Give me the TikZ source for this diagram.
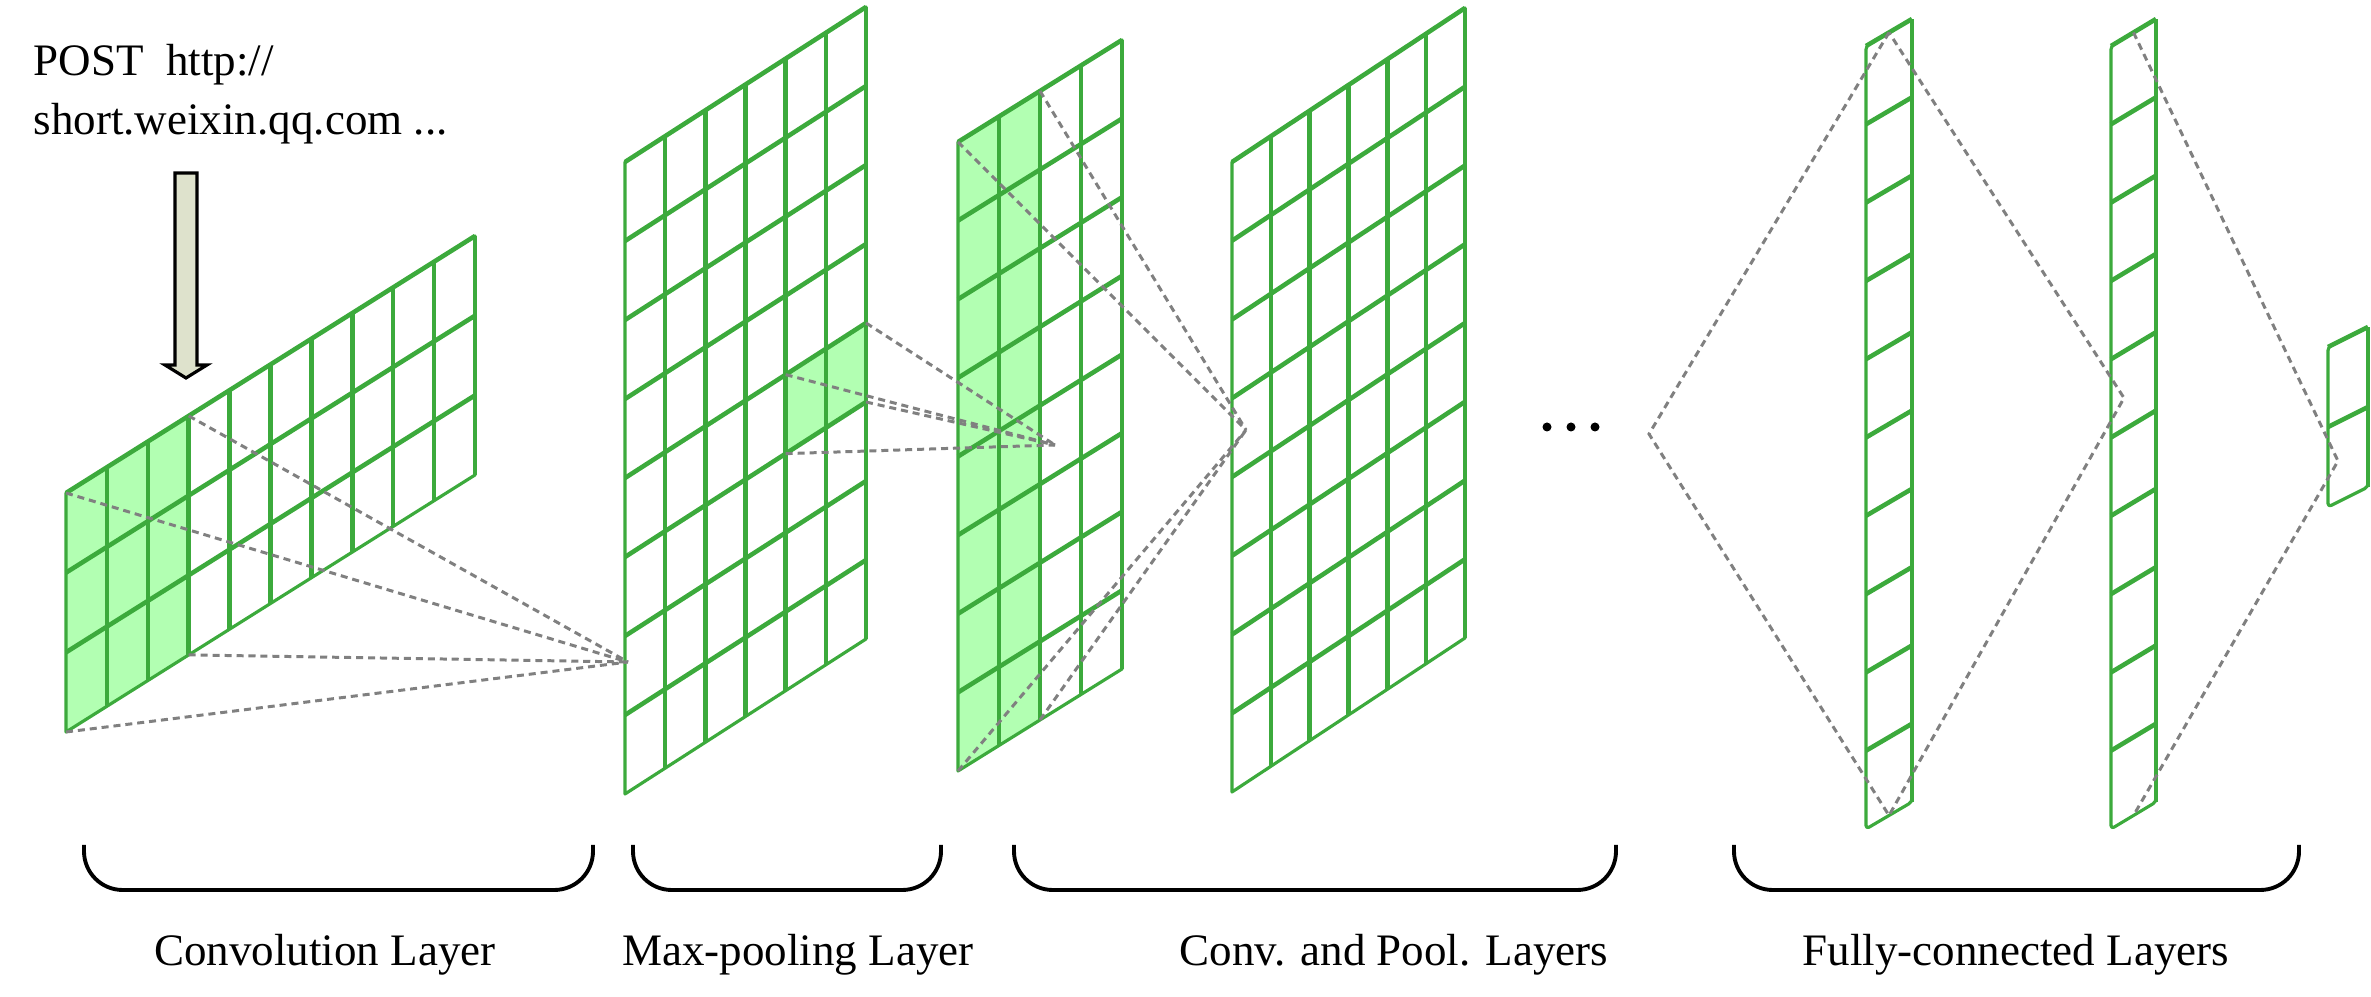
\documentclass[tikz,border=0pt]{standalone}
\usepackage{fontspec}
\setmainfont{Liberation Serif}
\usetikzlibrary{positioning}

\definecolor{mapgreen}{RGB}{60,170,60}
\definecolor{cellgreen}{RGB}{178,255,178}
\definecolor{linkgray}{RGB}{128,128,128}
\definecolor{arrowfill}{RGB}{222,226,204}

% one feature map: cols, rows, width, height (in the slanted scope)
\newcommand{\fmap}[5][]{%
  \foreach \i in {1,...,#2} \draw[gridline] ({\i*#4/#2},0) -- ++(0,#5);
  \foreach \j in {1,...,#3} \draw[gridline] (0,{\j*#5/#3}) -- ++(#4,0);
  \draw[border,#1] (0,0) rectangle (#4,#5);}

\begin{document}
\begin{tikzpicture}[x=0.01cm, y=0.01cm,
  gridline/.style={draw=mapgreen, line width=1.3pt},
  border/.style={draw=mapgreen, line width=0.9pt, line join=round},
  cell/.style={fill=cellgreen},
  link/.style={draw=linkgray, line width=0.85pt, dash pattern=on 2pt off 1.4pt},
  brace/.style={draw=black, line width=1.1pt, rounded corners=11pt},
  lbl/.style={font=\fontsize{12.8}{15}\selectfont, inner sep=0pt, anchor=base},
  blockarrow/.style={draw=black, fill=arrowfill, line width=0.9pt, line join=miter}]
\useasboundingbox (0,0) rectangle (2371,997);

% input text and arrow
\node[lbl, anchor=base west] (post) at (33,921) {POST\ \ http://};
\node[lbl, anchor=base west] (url) at (33,862) {short.weixin.qq.com ...};
\coordinate (arr) at (186,824);
\draw[blockarrow] (175,824) -- (197,824) -- (197,632) -- (207,632) -- (186,619)
  -- (165,632) -- (175,632) -- cycle;

% convolution input
\begin{scope}[shift={(66,265)}, yslant=257/409]
  \fill[cell] (0,0) rectangle (122.7,239);
  \fmap{10}{3}{409}{239}
  \coordinate (inp-tl) at (0,239);
  \coordinate (inp-bl) at (0,0);
  \coordinate (inp-tc) at (122.7,239);
  \coordinate (inp-bc) at (122.7,0);
\end{scope}

% convolution output
\begin{scope}[shift={(625,203)}, yslant=155/241]
  \fill[cell] (160.67,237) rectangle (241,316);
  \fmap{6}{8}{241}{632}
  \coordinate (pool-a) at (160.67,316);
  \coordinate (pool-b) at (241,316);
  \coordinate (pool-c) at (160.67,237);
  \coordinate (pool-d) at (241,237);
\end{scope}

% max-pooling output
\begin{scope}[shift={(958,226)}, yslant=102/164]
  \fill[cell] (0,0) rectangle (82,629);
  \fmap{4}{8}{164}{629}
  \coordinate (mid-tl) at (0,629);
  \coordinate (mid-tc) at (82,629);
  \coordinate (mid-bl) at (0,0);
  \coordinate (mid-bc) at (82,0);
\end{scope}

% next conv layer
\begin{scope}[shift={(1232,205)}, yslant=154/233]
  \fmap{6}{8}{233}{630}
\end{scope}

% fully-connected layers
\begin{scope}[shift={(1866,168)}, yslant=27/46]
  \fmap[rounded corners=1pt]{1}{10}{46}{783}
  \coordinate (fc1-t) at (23,783);
  \coordinate (fc1-b) at (23,0);
\end{scope}
\begin{scope}[shift={(2111,168)}, yslant=27/45]
  \fmap[rounded corners=1pt]{1}{10}{45}{783}
  \coordinate (fc2-t) at (22.5,783);
  \coordinate (fc2-b) at (22.5,0);
\end{scope}
\begin{scope}[shift={(2328,490)}, yslant=20/40]
  \fmap[rounded corners=1pt]{1}{2}{40}{160}
\end{scope}

\foreach \k in {0,1,2} \fill (1547+\k*24,570) circle (4.5);

% receptive fields
\coordinate (p1) at (628,335);
\coordinate (p2) at (1055,552);
\coordinate (p3) at (1246,567);
\coordinate (d1) at (1649,563);
\coordinate (d2) at (2124,599);
\coordinate (d3) at (2338,536);
\foreach \c in {inp-tl,inp-bl,inp-tc,inp-bc} \draw[link] (\c) -- (p1);
\foreach \c in {pool-a,pool-b,pool-c,pool-d} \draw[link] (\c) -- (p2);
\foreach \c in {mid-tl,mid-tc,mid-bl,mid-bc} \draw[link] (\c) -- (p3);
\draw[link] (fc1-t) -- (d1) -- (fc1-b) -- (d2) -- cycle;
\draw[link] (fc2-t) -- (d3) -- (fc2-b);

% layer braces
\draw[brace] (84,152) -- (84,107) -- (593,107) -- (593,152);
\draw[brace] (633,152) -- (633,107) -- (941,107) -- (941,152);
\draw[brace] (1014,152) -- (1014,107) -- (1616,107) -- (1616,152);
\draw[brace] (1734,152) -- (1734,107) -- (2299,107) -- (2299,152);
\node[lbl] (convlbl) at (325,31) {Convolution Layer};
\node[lbl] (poollbl) at (798,31) {Max-pooling Layer};
\node[lbl] (cplbl) at (1394,31) {Conv. and Pool. Layers};
\node[lbl] (fclbl) at (2016,31) {Fully-connected Layers};
\end{tikzpicture}
\end{document}
